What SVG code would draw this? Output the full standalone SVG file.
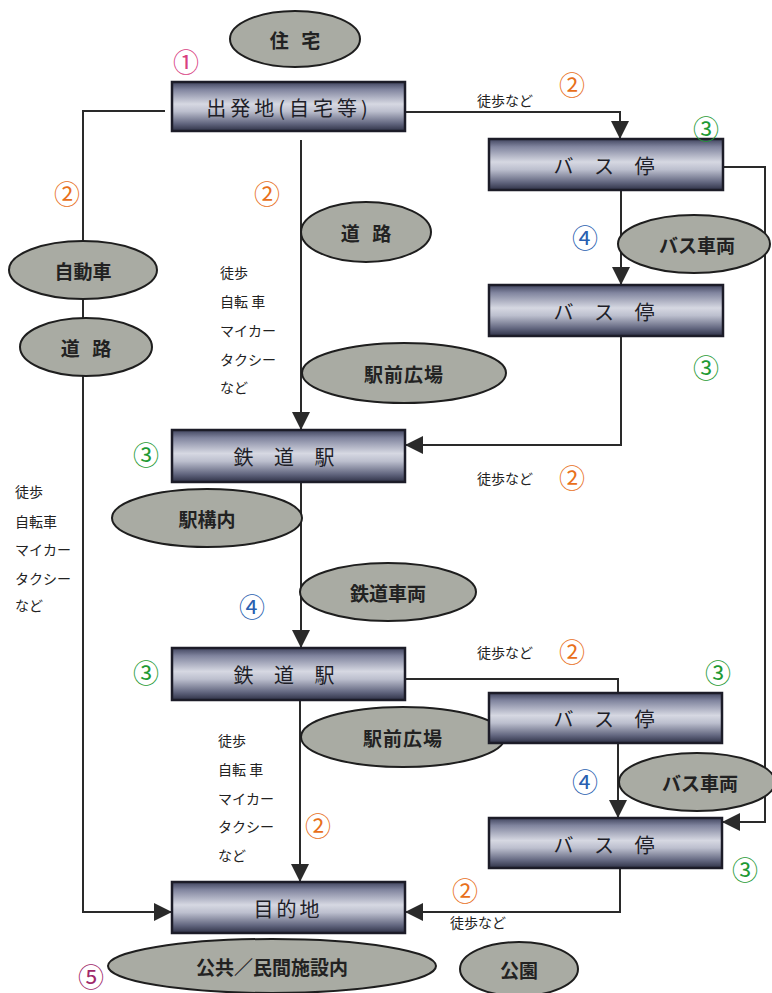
<svg xmlns="http://www.w3.org/2000/svg" width="772" height="993" viewBox="0 0 772 993">
<defs>
<linearGradient id="bg" x1="0" y1="0" x2="0" y2="1">
<stop offset="0" stop-color="#40445e"/>
<stop offset="0.15" stop-color="#80849e"/>
<stop offset="0.45" stop-color="#d6d8e2"/>
<stop offset="0.6" stop-color="#bcbfce"/>
<stop offset="0.85" stop-color="#62667f"/>
<stop offset="1" stop-color="#2e3146"/>
</linearGradient>
<marker id="ar" viewBox="0 0 10 10" refX="10" refY="5" markerWidth="18" markerHeight="18" markerUnits="userSpaceOnUse" orient="auto">
<path d="M0,0 L10,5 L0,10 Z" fill="#2a2a2a"/>
</marker>
<style>
.box{fill:url(#bg);stroke:#1c1c28;stroke-width:2.5}
.bt{font-family:"Noto Sans CJK JP","Noto Sans",sans-serif;font-size:20px;fill:#1e1e28;text-anchor:middle;dominant-baseline:central}
.el{fill:#a9aba3;stroke:#1e1e1e;stroke-width:2}
.et{font-family:"Noto Sans CJK JP","Noto Sans",sans-serif;font-size:19px;font-weight:bold;fill:#222;text-anchor:middle;dominant-baseline:central}
.ln{fill:none;stroke:#2a2a2a;stroke-width:2}
.lt{font-family:"Noto Sans CJK JP","Noto Sans",sans-serif;font-size:14px;fill:#222}
.n{font-family:"Noto Sans CJK JP","DejaVu Sans",sans-serif;font-size:26px;text-anchor:middle;dominant-baseline:central}
.o{fill:#e8701a}.g{fill:#1f9a35}.b{fill:#2a5fb0}.p{fill:#d8407f}.v{fill:#a0286a}
</style>
</defs>
<g id="connectors">
<path class="ln" d="M405,112 H620 V139" marker-end="url(#ar)"/>
<path class="ln" d="M165,111 H83 V912 H172" marker-end="url(#ar)"/>
<path class="ln" d="M301,140 V430" marker-end="url(#ar)"/>
<path class="ln" d="M621,190 V285" marker-end="url(#ar)"/>
<path class="ln" d="M723,167 H765 V822 H722" marker-end="url(#ar)"/>
<path class="ln" d="M621,336 V445 H405" marker-end="url(#ar)"/>
<path class="ln" d="M301,482 V648" marker-end="url(#ar)"/>
<path class="ln" d="M405,679 H618 V693"/>
<path class="ln" d="M618,743 V818" marker-end="url(#ar)"/>
<path class="ln" d="M620,868 V912 H405" marker-end="url(#ar)"/>
<path class="ln" d="M300,700 V882" marker-end="url(#ar)"/>
</g>
<g id="n-jutaku"><ellipse class="el" cx="295" cy="39" rx="65" ry="28"/><text class="et" x="297" y="39" letter-spacing="4">住 宅</text></g>
<g id="n-douro1"><ellipse class="el" cx="366" cy="232" rx="65" ry="30"/><text class="et" x="368" y="232" letter-spacing="4">道 路</text></g>
<g id="n-jidousha"><ellipse class="el" cx="83" cy="270" rx="74" ry="29"/><text class="et" x="83" y="270">自動車</text></g>
<g id="n-douro2"><ellipse class="el" cx="86" cy="347" rx="66" ry="29"/><text class="et" x="88" y="347" letter-spacing="4">道 路</text></g>
<g id="n-ekimae1"><ellipse class="el" cx="404" cy="373" rx="102" ry="30"/><text class="et" x="404" y="373" letter-spacing="1">駅前広場</text></g>
<g id="n-bussharyo1"><ellipse class="el" cx="694" cy="244" rx="76" ry="29"/><text class="et" x="697" y="244">バス車両</text></g>
<g id="n-ekikounai"><ellipse class="el" cx="207" cy="518" rx="95" ry="29"/><text class="et" x="207" y="518">駅構内</text></g>
<g id="n-tetsudousharyo"><ellipse class="el" cx="388" cy="592" rx="88" ry="29"/><text class="et" x="388" y="592">鉄道車両</text></g>
<g id="n-ekimae2"><ellipse class="el" cx="403" cy="737" rx="102" ry="30"/><text class="et" x="403" y="737" letter-spacing="1">駅前広場</text></g>
<g id="n-bussharyo2"><ellipse class="el" cx="697" cy="782" rx="78" ry="29"/><text class="et" x="700" y="782">バス車両</text></g>
<g id="n-shisetsu"><ellipse class="el" cx="272" cy="966" rx="164" ry="27"/><text class="et" x="272" y="966">公共／民間施設内</text></g>
<g id="n-kouen"><ellipse class="el" cx="519" cy="969" rx="59" ry="27"/><text class="et" x="519" y="969">公園</text></g>
<g id="n-start"><rect class="box" x="172" y="82" width="233" height="49"/><text class="bt" x="289" y="107" letter-spacing="4">出発地(自宅等)</text></g>
<g id="n-bus1"><rect class="box" x="489" y="139" width="234" height="51"/><text class="bt" x="608" y="165" letter-spacing="8">バ ス 停</text></g>
<g id="n-bus2"><rect class="box" x="489" y="285" width="234" height="51"/><text class="bt" x="608" y="311" letter-spacing="8">バ ス 停</text></g>
<g id="n-eki1"><rect class="box" x="172" y="430" width="233" height="52"/><text class="bt" x="288" y="456" letter-spacing="8">鉄 道 駅</text></g>
<g id="n-eki2"><rect class="box" x="172" y="648" width="233" height="52"/><text class="bt" x="288" y="674" letter-spacing="8">鉄 道 駅</text></g>
<g id="n-bus3"><rect class="box" x="489" y="693" width="233" height="50"/><text class="bt" x="608" y="718" letter-spacing="8">バ ス 停</text></g>
<g id="n-bus4"><rect class="box" x="489" y="818" width="233" height="50"/><text class="bt" x="608" y="844" letter-spacing="8">バ ス 停</text></g>
<g id="n-goal"><rect class="box" x="172" y="882" width="233" height="51"/><text class="bt" x="288" y="908" letter-spacing="3">目的地</text></g>
<g id="labels">
<text class="lt" x="477" y="106">徒歩など</text>
<text class="lt" x="477" y="484">徒歩など</text>
<text class="lt" x="477" y="658">徒歩など</text>
<text class="lt" x="450" y="928">徒歩など</text>
<text class="lt" x="220" y="278">徒歩</text><text class="lt" x="220" y="307">自転 車</text><text class="lt" x="220" y="336">マイカー</text><text class="lt" x="220" y="365">タクシー</text><text class="lt" x="220" y="393">など</text>
<text class="lt" x="15" y="497">徒歩</text><text class="lt" x="15" y="527">自転車</text><text class="lt" x="15" y="555">マイカー</text><text class="lt" x="15" y="584">タクシー</text><text class="lt" x="15" y="611">など</text>
<text class="lt" x="218" y="746">徒歩</text><text class="lt" x="218" y="775">自転 車</text><text class="lt" x="218" y="804">マイカー</text><text class="lt" x="218" y="832">タクシー</text><text class="lt" x="218" y="861">など</text>
<text class="n p" x="186" y="60">①</text>
<text class="n o" x="572" y="83">②</text>
<text class="n g" x="706" y="127">③</text>
<text class="n o" x="67" y="192">②</text>
<text class="n o" x="267" y="192">②</text>
<text class="n b" x="585" y="236">④</text>
<text class="n g" x="706" y="366">③</text>
<text class="n g" x="146" y="453">③</text>
<text class="n o" x="572" y="476">②</text>
<text class="n b" x="252" y="605">④</text>
<text class="n g" x="146" y="671">③</text>
<text class="n o" x="572" y="650">②</text>
<text class="n g" x="718" y="671">③</text>
<text class="n b" x="585" y="780">④</text>
<text class="n o" x="318" y="824">②</text>
<text class="n g" x="745" y="868">③</text>
<text class="n o" x="465" y="889">②</text>
<text class="n v" x="91" y="975">⑤</text>
</g>
</svg>
